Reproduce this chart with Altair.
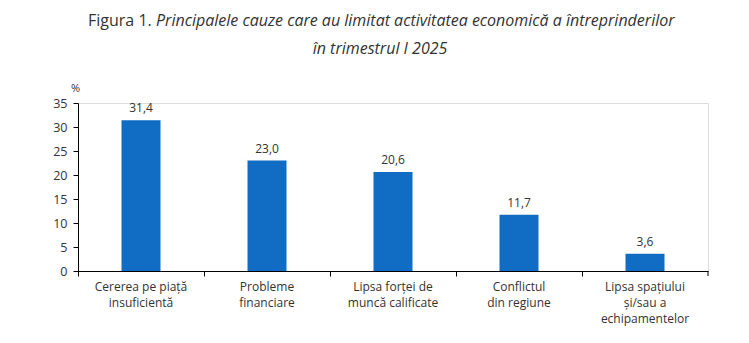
import altair as alt
import pandas as pd

categories = [
    "Cererea pe piață insuficientă",
    "Probleme financiare",
    "Lipsa forței de muncă calificate",
    "Conflictul din regiune",
    "Lipsa spațiului și/sau a echipamentelor",
]
label_lines = [
    ["Cererea pe piață", "insuficientă"],
    ["Probleme", "financiare"],
    ["Lipsa forței de", "muncă calificate"],
    ["Conflictul", "din regiune"],
    ["Lipsa spațiului", "și/sau a", "echipamentelor"],
]
values = [31.4, 23.0, 20.6, 11.7, 3.6]
value_labels = ["31,4", "23,0", "20,6", "11,7", "3,6"]
y_ticks = [0, 5, 10, 15, 20, 25, 30, 35]

FONT = "Open Sans"
TXT = "#333333"

df = pd.DataFrame({"cat": categories, "val": values, "lab": value_labels})

label_expr = "{" + ", ".join(
    f'"{c}": [{", ".join(chr(34) + l + chr(34) for l in ls)}]'
    for c, ls in zip(categories, label_lines)
) + "}[datum.value]"

x = alt.X(
    "cat:N",
    sort=categories,
    scale=alt.Scale(paddingInner=0.0, paddingOuter=0.0),
    axis=alt.Axis(
        title=None,
        labelAngle=0,
        labelExpr=label_expr,
        labelFont=FONT,
        labelFontSize=12,
        labelColor=TXT,
        labelLineHeight=16,
        labelPadding=5,
        labelBaseline="top",
        tickSize=5,
        tickColor="#000000",
        domainColor="#000000",
        bandPosition=0,
        labelLimit=200,
    ),
)
y = alt.Y(
    "val:Q",
    scale=alt.Scale(domain=[0, 35], nice=False),
    axis=alt.Axis(
        values=y_ticks,
        tickCount=8,
        labelOverlap=False,
        title="%",
        titleAngle=0,
        titleX=-3,
        titleY=-10,
        titleFont=FONT,
        titleFontSize=11,
        titleFontWeight="normal",
        titleColor=TXT,
        titleAlign="center",
        labelFont=FONT,
        labelFontSize=12.5,
        labelColor=TXT,
        labelPadding=6,
        tickSize=5,
        tickColor="#000000",
        domainColor="#000000",
        grid=False,
    ),
)

bars = alt.Chart(df).mark_bar(size=39, color="#116CC4").encode(x=x, y=y)
texts = alt.Chart(df).mark_text(
    dy=-12, font=FONT, fontSize=12, color=TXT
).encode(x=alt.X("cat:N", sort=categories), y="val:Q", text="lab:N")

end_tick = alt.Chart(pd.DataFrame({"a": [0]})).mark_rule(color="#000000", strokeWidth=1).encode(
    x=alt.value(630), y=alt.value(168), y2=alt.value(173)
)

t1a = alt.Chart(pd.DataFrame({"t": ["Figura 1."]})).mark_text(
    font=FONT, fontSize=16, color=TXT, align="left", baseline="alphabetic"
).encode(x=alt.value(10), y=alt.value(-77), text="t:N")
t1b = alt.Chart(pd.DataFrame({"t": ["Principalele cauze care au limitat activitatea economică a întreprinderilor"]})).mark_text(
    font=FONT, fontSize=16, fontStyle="italic", color=TXT, align="left", baseline="alphabetic"
).encode(x=alt.value(78), y=alt.value(-77), text="t:N")
t2 = alt.Chart(pd.DataFrame({"t": ["în trimestrul I 2025"]})).mark_text(
    font=FONT, fontSize=16, fontStyle="italic", color=TXT, align="center", baseline="alphabetic"
).encode(x=alt.value(302), y=alt.value(-49), text="t:N")

chart = alt.layer(bars, texts, end_tick, t1a, t1b, t2).properties(
    width=630,
    height=168,
    autosize=alt.AutoSizeParams(type="none"),
    padding={"left": 78, "top": 103, "right": 41, "bottom": 72},
).configure_view(stroke=None).configure(background="white")

chart.save("out.html", embed_options={"renderer": "svg", "actions": False})
